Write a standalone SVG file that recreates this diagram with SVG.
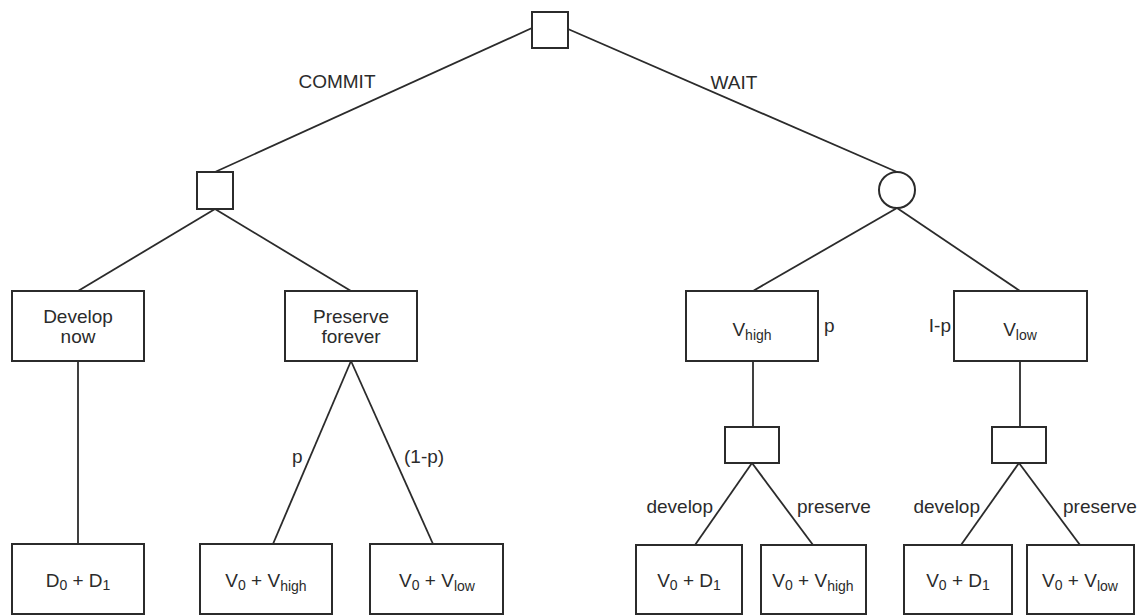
<svg xmlns="http://www.w3.org/2000/svg" width="1142" height="615" viewBox="0 0 1142 615">
<style>
.n{fill:#fff;stroke:#2b2b2b;stroke-width:2}
.c line{stroke:#2b2b2b;stroke-width:1.8}
text{font-family:"Liberation Sans",Arial,sans-serif;font-size:19px;fill:#2b2b2b}
.m{text-anchor:middle}
.e{text-anchor:end}
.s{font-size:14px}
</style>
<rect width="1142" height="615" fill="#fff"/>
<g class="c" id="connectors">
<line x1="532" y1="28" x2="215" y2="172"/>
<line x1="568" y1="29" x2="897" y2="172"/>
<line x1="215" y1="209" x2="78" y2="291"/>
<line x1="215" y1="209" x2="351" y2="291"/>
<line x1="897" y1="208" x2="753" y2="291"/>
<line x1="897" y1="208" x2="1020" y2="291"/>
<line x1="78" y1="361" x2="78" y2="544"/>
<line x1="351" y1="361" x2="273" y2="544"/>
<line x1="351" y1="361" x2="433" y2="544"/>
<line x1="753" y1="361" x2="753" y2="427"/>
<line x1="1020" y1="361" x2="1020" y2="427"/>
<line x1="752" y1="463" x2="695" y2="545"/>
<line x1="752" y1="463" x2="813" y2="545"/>
<line x1="1019" y1="463" x2="961" y2="545"/>
<line x1="1019" y1="463" x2="1080" y2="545"/>
<text class="m" x="337" y="88">COMMIT</text>
<text class="m" x="734" y="89">WAIT</text>
<text x="292" y="463">p</text>
<text x="404" y="463">(1-p)</text>
<text x="824" y="332">p</text>
<text class="e" x="951" y="332">I-p</text>
<text class="e" x="713" y="513">develop</text>
<text x="797" y="513">preserve</text>
<text class="e" x="980" y="513">develop</text>
<text x="1063" y="513">preserve</text>
</g>
<g id="root"><rect class="n" x="532" y="12" width="36" height="36"/></g>
<g id="commit"><rect class="n" x="197" y="172" width="36" height="37"/></g>
<g id="wait"><circle class="n" cx="897" cy="190" r="18"/></g>
<g id="develop-now"><rect class="n" x="12" y="291" width="132" height="70"/><text class="m" x="78" y="323">Develop</text><text class="m" x="78" y="343">now</text></g>
<g id="preserve-forever"><rect class="n" x="285" y="291" width="132" height="70"/><text class="m" x="351" y="323">Preserve</text><text class="m" x="351" y="343">forever</text></g>
<g id="vhigh"><rect class="n" x="686" y="291" width="132" height="70"/><text class="m" x="752" y="336">V<tspan class="s" dy="4">high</tspan></text></g>
<g id="vlow"><rect class="n" x="954" y="291" width="133" height="70"/><text class="m" x="1020" y="336">V<tspan class="s" dy="4">low</tspan></text></g>
<g id="dec-high"><rect class="n" x="725" y="427" width="54" height="36"/></g>
<g id="dec-low"><rect class="n" x="992" y="427" width="54" height="36"/></g>
<g id="d0d1"><rect class="n" x="12" y="544" width="132" height="70"/><text class="m" x="78" y="587">D<tspan class="s" dy="3">0</tspan><tspan dy="-3"> + D</tspan><tspan class="s" dy="3">1</tspan></text></g>
<g id="v0vhigh"><rect class="n" x="200" y="544" width="132" height="70"/><text class="m" x="266" y="587">V<tspan class="s" dy="3">0</tspan><tspan dy="-3"> + V</tspan><tspan class="s" dy="4">high</tspan></text></g>
<g id="v0vlow"><rect class="n" x="370" y="544" width="133" height="70"/><text class="m" x="437" y="587">V<tspan class="s" dy="3">0</tspan><tspan dy="-3"> + V</tspan><tspan class="s" dy="4">low</tspan></text></g>
<g id="v0d1-a"><rect class="n" x="636" y="545" width="106" height="69"/><text class="m" x="689" y="587">V<tspan class="s" dy="3">0</tspan><tspan dy="-3"> + D</tspan><tspan class="s" dy="3">1</tspan></text></g>
<g id="v0vhigh-b"><rect class="n" x="761" y="545" width="105" height="69"/><text class="m" x="813" y="587">V<tspan class="s" dy="3">0</tspan><tspan dy="-3"> + V</tspan><tspan class="s" dy="4">high</tspan></text></g>
<g id="v0d1-b"><rect class="n" x="904" y="545" width="108" height="69"/><text class="m" x="958" y="587">V<tspan class="s" dy="3">0</tspan><tspan dy="-3"> + D</tspan><tspan class="s" dy="3">1</tspan></text></g>
<g id="v0vlow-b"><rect class="n" x="1027" y="545" width="107" height="69"/><text class="m" x="1080" y="587">V<tspan class="s" dy="3">0</tspan><tspan dy="-3"> + V</tspan><tspan class="s" dy="4">low</tspan></text></g>
</svg>
